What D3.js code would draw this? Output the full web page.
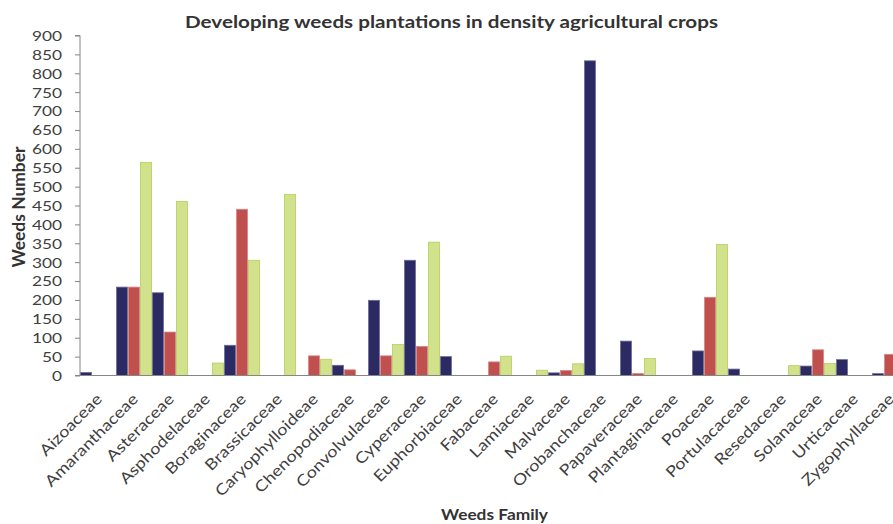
<!DOCTYPE html>
<html>
<head>
<meta charset="utf-8">
<script src="https://cdn.jsdelivr.net/npm/d3@7"></script>
<style>
  html, body { margin: 0; padding: 0; background: #fff; }
  svg { display: block; font-family: Lato, "Open Sans", sans-serif; }
</style>
</head>
<body>
<svg id="chart" width="893" height="524"></svg>
<script>
const categories = ["Aizoaceae","Amaranthaceae","Asteraceae","Asphodelaceae","Boraginaceae","Brassicaceae",
  "Caryophylloideae","Chenopodiaceae","Convolvulaceae","Cyperaceae","Euphorbiaceae","Fabaceae","Lamiaceae",
  "Malvaceae","Orobanchaceae","Papaveraceae","Plantaginaceae","Poaceae","Portulacaceae","Resedaceae",
  "Solanaceae","Urticaceae","Zygophyllaceae"];
const seriesNames = ["Series 1","Series 2","Series 3"];
const series1 = [8, 234, 219, 0, 80, 0, 0, 27, 199, 305, 50, 0, 0, 7, 833, 91, 0, 65, 17, 0, 25, 42, 5];
const series2 = [0, 234, 115, 0, 440, 0, 52, 15, 52, 77, 0, 36, 0, 13, 0, 5, 0, 207, 0, 0, 68, 0, 56];
const series3 = [0, 564, 461, 33, 305, 479, 43, 0, 82, 353, 0, 51, 14, 31, 0, 45, 0, 347, 0, 26, 32, 0, 0];
const yTicks = [0,50,100,150,200,250,300,350,400,450,500,550,600,650,700,750,800,850,900];
const title = "Developing weeds plantations in density agricultural crops";
const yTitle = "Weeds Number";
const xTitle = "Weeds Family";

const fills = ["#2C2A63", "#C0504D", "#D1E18C"];
const strokes = ["#6E6C98", "#D98683", "#B6CF5E"];
const textColor = "#404040";

const svg = d3.select("#chart");
const W = 893, H = 524;
svg.append("rect").attr("width", W).attr("height", H).attr("fill", "#fff");

const x0 = 80, x1 = 908, yTop = 35.5, yBot = 375.5;
const x = d3.scaleBand().domain(categories).range([x0, x1]).paddingInner(0).paddingOuter(0);
const xs = d3.scaleBand().domain(seriesNames).range([0, x.bandwidth()]).padding(0);
const y = d3.scaleLinear().domain([0, 900]).range([yBot, yTop]);

function stretch(sel, factor) {
  sel.each(function() {
    const L = this.getComputedTextLength();
    d3.select(this).attr("textLength", L * factor).attr("lengthAdjust", "spacingAndGlyphs");
  });
}

// Bars
const data = [series1, series2, series3];
data.forEach((vals, si) => {
  svg.append("g").selectAll("rect").data(categories).join("rect")
    .attr("x", (c) => x(c) + xs(seriesNames[si]) + 0.5)
    .attr("width", xs.bandwidth() - 1)
    .attr("y", (c, i) => y(vals[i]))
    .attr("height", (c, i) => Math.max(0, yBot - y(vals[i])))
    .attr("fill", fills[si])
    .attr("stroke", strokes[si])
    .attr("stroke-width", 0.8)
    .style("display", (c, i) => vals[i] > 0 ? null : "none");
});

// Y axis
const yAxis = svg.append("g").attr("transform", `translate(${x0},0)`)
  .call(d3.axisLeft(y).tickValues(yTicks).tickSize(5).tickPadding(13).tickFormat(d3.format("d")));
yAxis.select(".domain").attr("stroke", "#868686").attr("d", `M-5,${yTop}H0V${yBot}H-5`);
yAxis.selectAll(".tick line").attr("stroke", "#868686");
yAxis.selectAll(".tick text").attr("fill", textColor).style("font-size", "13.5px")
  .style("font-family", "Lato, sans-serif").attr("dy", "0.36em");
stretch(yAxis.selectAll(".tick text"), 1.28);

// X axis line
const xAxis = svg.append("g").attr("transform", `translate(0,${yBot})`)
  .call(d3.axisBottom(x).tickSize(0).tickFormat(""));
xAxis.select(".domain").attr("stroke", "#868686").attr("d", `M${x0},0H${x1}`);

// X category labels
const xl = svg.append("g").selectAll("text").data(categories).join("text")
  .attr("transform", (c) => `translate(${x(c) + x.bandwidth() / 2 + 5},400) rotate(-45)`)
  .attr("text-anchor", "end")
  .attr("fill", textColor)
  .style("font-size", "15.5px")
  .text((c) => c);
stretch(xl, 1.17);

// Title
const t = svg.append("text").attr("x", 451.5).attr("y", 28).attr("text-anchor", "middle")
  .attr("fill", "#333").style("font-size", "17.5px").style("font-weight", "bold").text(title);
t.attr("textLength", 533).attr("lengthAdjust", "spacingAndGlyphs");

// Y title
svg.append("text").attr("transform", "translate(25,207) rotate(-90)").attr("text-anchor", "middle")
  .attr("fill", "#333").style("font-size", "16.5px").style("font-weight", "bold")
  .attr("textLength", 121).attr("lengthAdjust", "spacingAndGlyphs").text(yTitle);

// X title
svg.append("text").attr("x", 441).attr("y", 519.5).attr("text-anchor", "start")
  .attr("fill", "#333").style("font-size", "15.5px").style("font-weight", "bold")
  .attr("textLength", 107).attr("lengthAdjust", "spacingAndGlyphs").text(xTitle);
</script>
</body>
</html>
